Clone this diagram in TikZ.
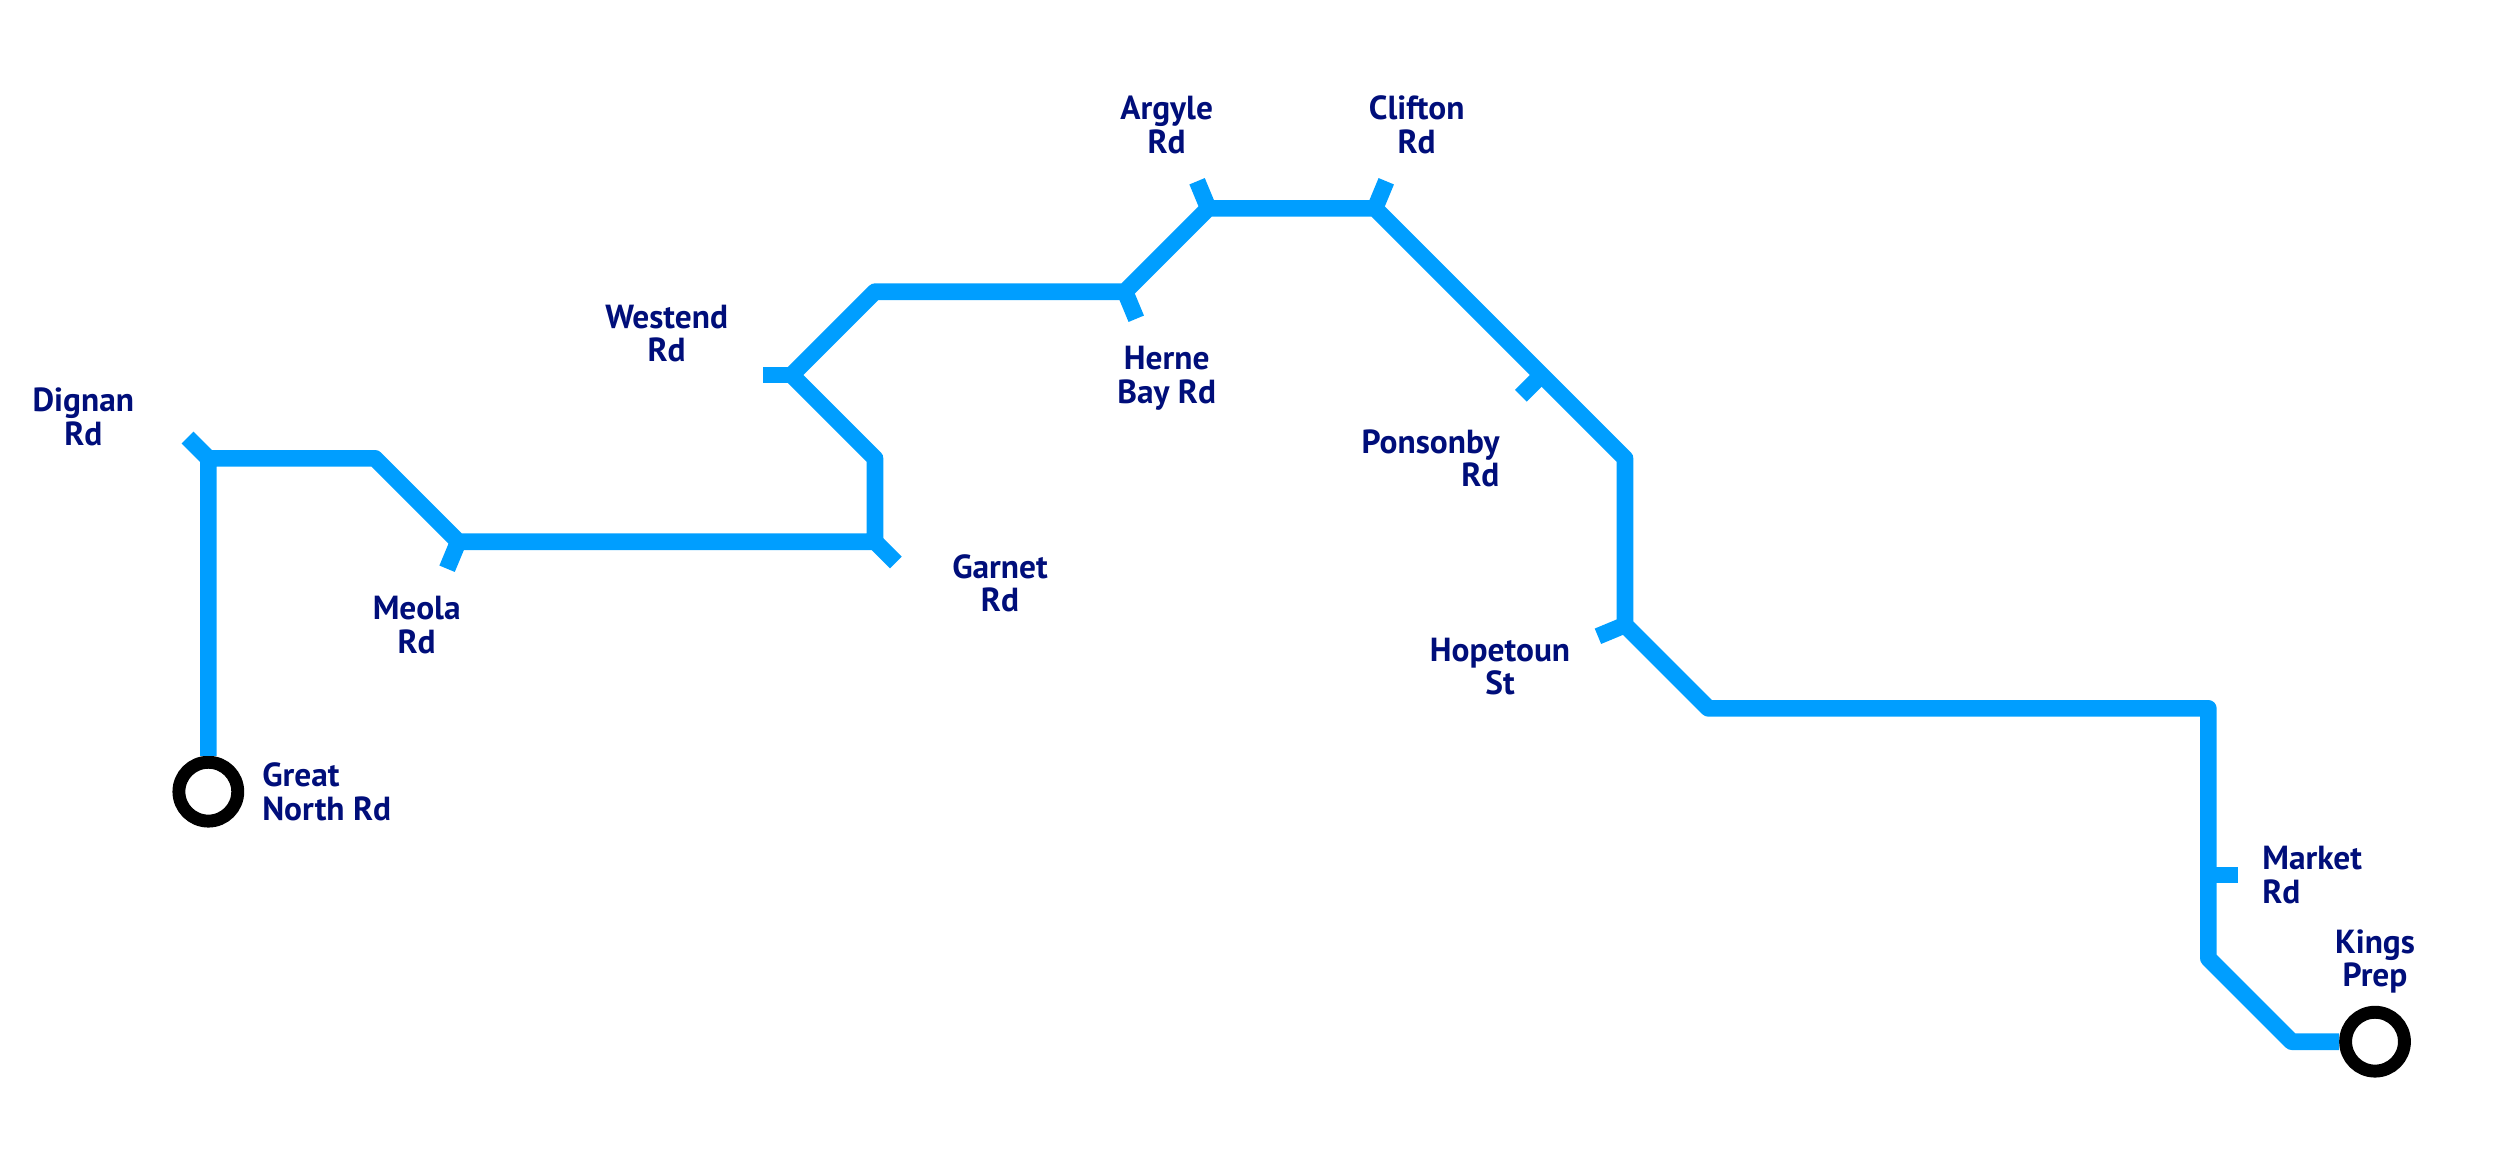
\documentclass[tikz,border=0pt]{standalone}
\usepackage{fontspec}
\setmainfont{PT Sans}
\usetikzlibrary{positioning}
\definecolor{linecol}{RGB}{0,158,255}
\definecolor{labelcol}{RGB}{0,14,122}
\tikzset{line/.style={draw=linecol, line width=0.2cm, line join=round},
    tick/.style={draw=linecol, line width=0.2cm},
    terminus/.style={circle, draw=black, fill=white, line width=0.155cm, minimum size=0.706cm, inner sep=0pt},
    stn/.style={text=labelcol, inner sep=0pt, align=center, font=\fontsize{11.4}{11.4}\selectfont\bfseries}}

\begin{document}
\begin{tikzpicture}[y=-1cm]
                    \useasboundingbox (0,0) rectangle (30,14);
                    \node[terminus] (greatnorth) at (2.5,9.5){};
                    \node[terminus] (kings) at (28.5,12.5){};

                    \foreach \name/\x/\y in {dignan/2.5/5.5,bendA/4.5/5.5,meola/5.5/6.5,garnet/10.5/6.5,bendB/10.5/5.5,westend/9.5/4.5,
                        bendC/10.5/3.5,herne/13.5/3.5,argyle/14.5/2.5,clifton/16.5/2.5,ponsonby/18.5/4.5,bendD/19.5/5.5,hopetoun/19.5/7.5,
                        bendE/20.5/8.5,bendF/26.5/8.5,market/26.5/10.5,bendG/26.5/11.5,bendH/27.5/12.5}{
                        \coordinate (\name) at (\x,\y);
                        }

                    \draw[line] (greatnorth) -- (dignan) -- (bendA) -- (meola) -- (garnet) -- (bendB) -- (westend) -- (bendC) -- (herne) -- (argyle)
                        -- (clifton) -- (ponsonby) -- (bendD) -- (hopetoun) -- (bendE) -- (bendF) -- (market) -- (bendG) -- (bendH) -- (kings);

                    \foreach \name/\dx/\dy in {dignan/-0.25/-0.25,meola/-0.135/0.325,garnet/0.25/0.25,westend/-0.35/0,herne/0.135/0.325,
                        argyle/-0.135/-0.325,clifton/0.135/-0.325,ponsonby/-0.25/0.25,hopetoun/-0.325/0.135,market/0.35/0}{
                        \path (\name) ++(\dx,\dy) coordinate (\name end);
                        \draw[tick] (\name) -- (\name end);
                        }

                    \node[stn] (dignanlabel) at (1,5){Dignan\\Rd};
                    \node[stn] (meolalabel) at (5,7.5){Meola\\Rd};
                    \node[stn,align=left,anchor=west] (greatnorthlabel) at (3.14,9.5){Great\\North Rd};
                    \node[stn] (garnetlabel) at (12,7){Garnet\\Rd};
                    \node[stn] (westendlabel) at (8,4){Westend\\Rd};
                    \node[stn] (hernelabel) at (14,4.54){Herne\\Bay Rd};
                    \node[stn] (argylelabel) at (14,1.5){Argyle\\Rd};
                    \node[stn] (cliftonlabel) at (17,1.5){Clifton\\Rd};
                    \node[stn,align=right,anchor=east] (ponsonbylabel) at (18,5.5){Ponsonby\\Rd};
                    \node[stn] (hopetounlabel) at (18,8){Hopetoun\\St};
                    \node[stn,align=left,anchor=west] (marketlabel) at (27.14,10.5){Market\\Rd};
                    \node[stn] (kingslabel) at (28.5,11.54){Kings\\Prep};
                \end{tikzpicture}
\end{document}
